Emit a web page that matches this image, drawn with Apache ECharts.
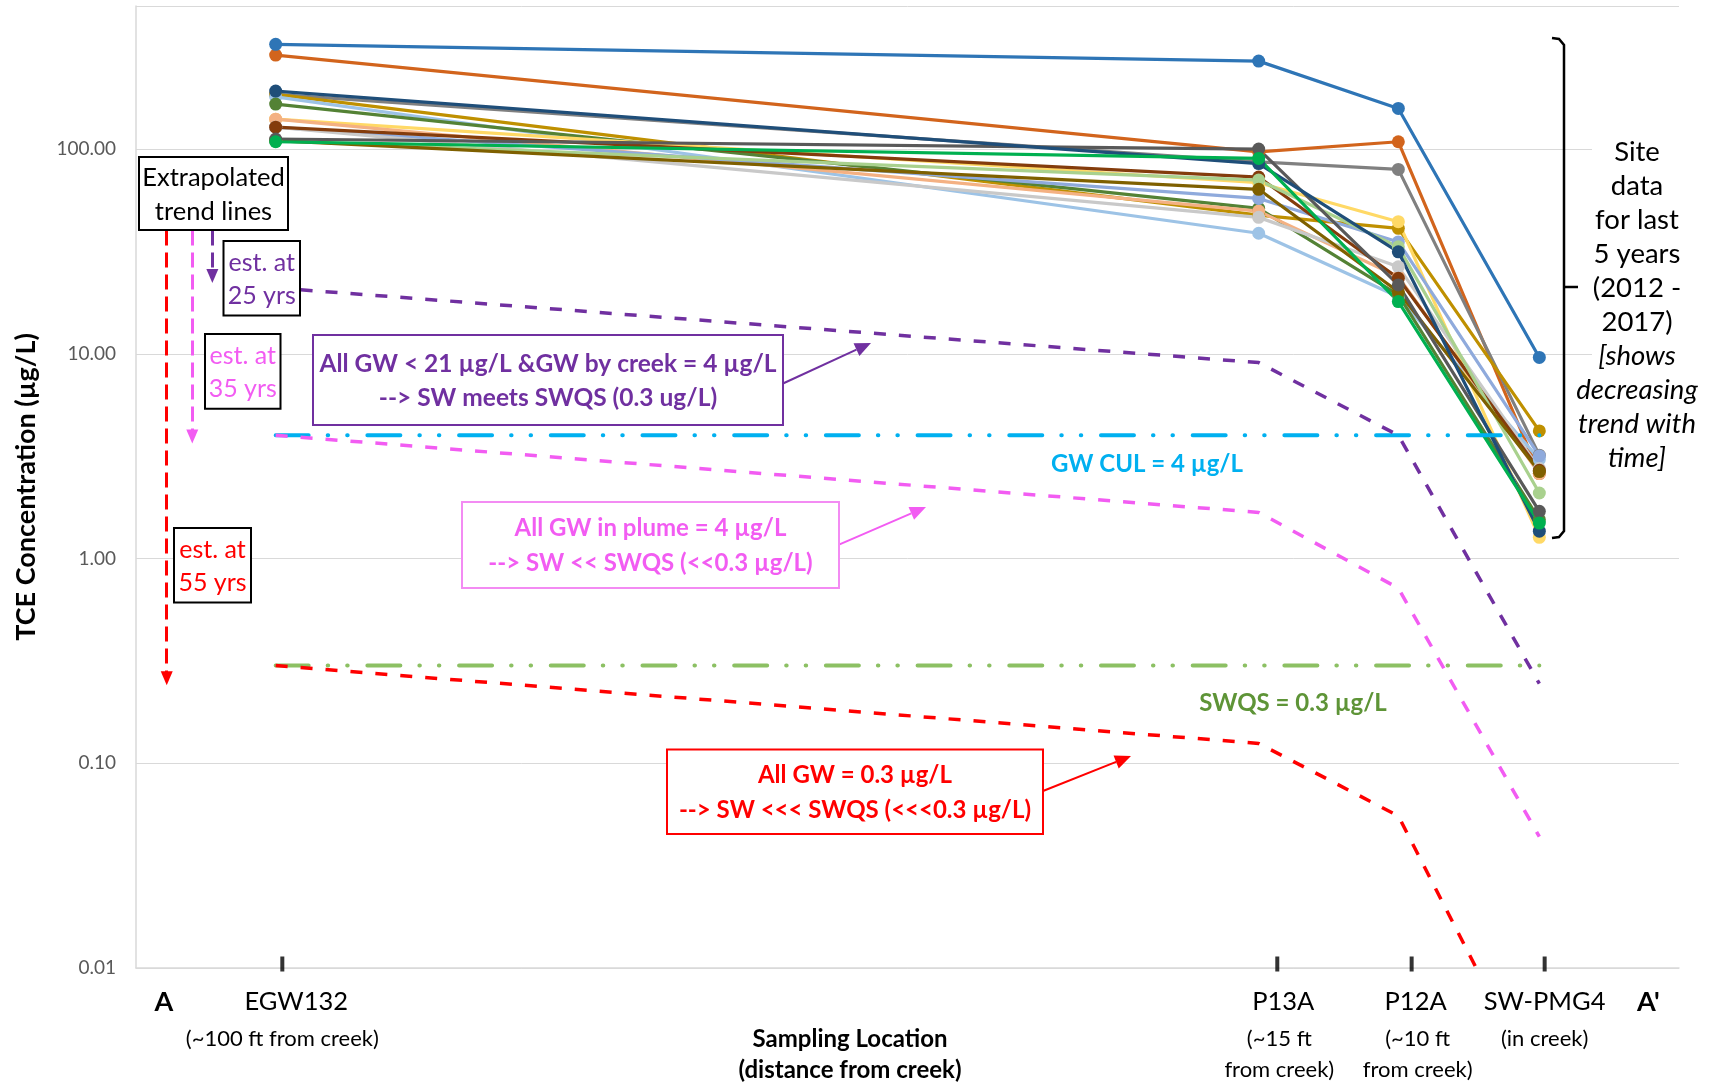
<!DOCTYPE html>
<html><head><meta charset="utf-8">
<script src="https://cdn.jsdelivr.net/npm/echarts@6/dist/echarts.min.js"></script>
<style>html,body{margin:0;padding:0;background:#fff}#c{width:1718px;height:1086px}</style>
</head><body><div id="c"></div>
<script>
const FONT = 'Lato, "Noto Sans", sans-serif';

// ---- data ----
const locations = ['EGW132', 'P13A', 'P12A', 'SW-PMG4'];
const locationSub = ['(~100 ft from creek)', '(~15 ft\nfrom creek)', '(~10 ft\nfrom creek)', '(in creek)'];
const markerX = [1.05, 8.44, 9.49, 10.55];   // position along section A-A'
const tickX = [1.10, 8.58, 9.59, 10.59];
const yTickValues = [0.01, 0.1, 1, 10, 100];

// TCE concentrations (ug/L) at EGW132, P13A, P12A, SW-PMG4 for each sampling event
const ev01 = [325, 269, 158, 9.6];
const ev02 = [288, 97, 108.6, 2.6];
const ev03 = [185, 86.7, 79.6, 3.2];
const ev04 = [185, 47.6, 41.0, 4.2];
const ev05 = [180, 38.8, 19.0, 3.05];
const ev06 = [166, 51.3, 19.4, 1.55];
const ev07 = [140, 68.5, 44.2, 1.27];
const ev08 = [140, 49.8, 23.8, 2.6];
const ev09 = [128, 57.4, 35.2, 3.17];
const ev10 = [128, 46.4, 26.6, 2.75];
const ev11 = [128, 73.0, 23.4, 2.7];
const ev12 = [110, 70.6, 33.3, 2.09];
const ev13 = [110, 63.6, 20.1, 2.66];
const ev14 = [112, 100, 21.7, 1.70];
const ev15 = [192, 85.0, 31.5, 1.36];
const ev16 = [108.6, 90.0, 18.0, 1.49];
const eventValues = [ev02, ev01, ev03, ev04, ev05, ev06, ev07, ev08, ev09, ev10, ev11, ev12, ev13, ev14, ev15, ev16];
const eventColors = ['#D2641C', '#2E75B6', '#808080', '#BF9000', '#9DC3E6', '#548235', '#FFD966', '#F4B183',
  '#8FAADC', '#C9C9C9', '#843C0C', '#A9D18E', '#7F6000', '#595959', '#1F4E79', '#00B050'];

// extrapolated trend lines
const est25 = [21, 9.06, 4.0, 0.245];
const est35 = [4, 1.68, 0.717, 0.0438];
const est55 = [0.3, 0.125, 0.0553, 0.0025];
const gwCul = 4;
const swqs = 0.3;
// arrows from "Extrapolated trend lines" box
const arrowX = [0.231, 0.423, 0.574];
const arrowFrom = 40;
const arrowTo = [0.26, 3.95, 24];

// ---- chart ----
const chart = echarts.init(document.getElementById('c'), null, {renderer: 'canvas'});

const pts = vals => vals.map((v, i) => [markerX[i], v]);

const series = [];
eventValues.forEach((vals, i) => {
  series.push({
    type: 'line', name: 'event' + (i + 1), data: pts(vals),
    symbol: 'circle', symbolSize: 13, showSymbol: true,
    itemStyle: {color: eventColors[i]},
    lineStyle: {color: eventColors[i], width: 3.2},
    emphasis: {disabled: true}, z: 2
  });
});

const dashDot = [33, 19, 0.5, 19, 0.5, 19.7];
series.push({
  type: 'line', name: 'GW CUL', data: [[markerX[0], gwCul], [markerX[3], gwCul]],
  symbol: 'none', lineStyle: {color: '#00B0F0', width: 4, type: dashDot, cap: 'round'}, z: 3
});
series.push({
  type: 'line', name: 'SWQS', data: [[markerX[0], swqs], [markerX[3], swqs]],
  symbol: 'none', lineStyle: {color: '#8CC063', width: 4, type: dashDot, cap: 'round'}, z: 3
});

const estDefs = [
  {name: 'est 25 yrs', vals: est25, color: '#7030A0', ai: 2},
  {name: 'est 35 yrs', vals: est35, color: '#F25CF2', ai: 1},
  {name: 'est 55 yrs', vals: est55, color: '#FF0000', ai: 0}
];
estDefs.forEach(d => {
  series.push({
    type: 'line', name: d.name, data: pts(d.vals), symbol: 'none', clip: true,
    lineStyle: {color: d.color, width: 3.5, type: [12, 13]}, z: 4,
    markLine: {
      silent: true, symbol: ['none', 'triangle'], symbolSize: [12, 14], animation: false,
      label: {show: false},
      lineStyle: {color: d.color, width: 3, type: [15, 7]},
      data: [[{coord: [arrowX[d.ai], arrowFrom]}, {coord: [arrowX[d.ai], arrowTo[d.ai]]}]]
    }
  });
});

// axis ticks at sampling locations
series.push({
  type: 'scatter', name: 'ticks', data: tickX.map(x => [x, yTickValues[0]]),
  symbol: 'rect', symbolSize: [4, 15], symbolOffset: [0, -4], clip: false,
  itemStyle: {color: '#000'}, z: 6, silent: true
});

const option = {
  animation: false,
  backgroundColor: '#fff',
  grid: {left: 136, right: 39, top: 6, bottom: 118, containLabel: false},
  xAxis: {
    type: 'value', min: 0, max: 11.6,
    axisLine: {show: true, lineStyle: {color: '#D9D9D9', width: 1.5}},
    axisTick: {show: false}, axisLabel: {show: false}, splitLine: {show: false}
  },
  yAxis: {
    type: 'log', logBase: 10, min: 0.01, max: 500,
    axisLine: {show: true, lineStyle: {color: '#D9D9D9', width: 1.5}},
    axisTick: {show: false},
    splitLine: {show: true, lineStyle: {color: '#D9D9D9', width: 1}},
    axisLabel: {color: '#595959', fontSize: 19, fontFamily: FONT, margin: 20,
      formatter: v => (yTickValues.some(t => Math.abs(t - v) / t < 1e-6) ? Number(v).toFixed(2) : '')},
    name: 'TCE Concentration (µg/L)', nameLocation: 'middle', nameGap: 96,
    nameTextStyle: {fontFamily: FONT, fontSize: 27, fontWeight: 'bold', color: '#000'}
  },
  series: series
};
chart.setOption(option);

// ---- annotations ----
const G = [];
function txt(x, y, text, opt) {
  opt = opt || {};
  G.push({type: 'text', z: 110, x: x, y: y, style: {
    text: text, x: 0, y: 0, align: 'center', verticalAlign: 'middle',
    fontFamily: FONT, fontSize: opt.size || 22, fontWeight: opt.bold ? 'bold' : 'normal',
    fontStyle: opt.italic ? 'italic' : 'normal', fill: opt.color || '#000',
    lineHeight: opt.lh || 34
  }});
}
function box(x, y, w, h, stroke, lines, color, bold, size, lh) {
  G.push({type: 'rect', z: 105, shape: {x: x, y: y, width: w, height: h},
    style: {fill: '#fff', stroke: stroke, lineWidth: 2}});
  txt(x + w / 2, y + h / 2 + 1, lines.join('\n'), {color: color, bold: bold, size: size, lh: lh});
}
function arrow(x1, y1, x2, y2, color) {
  const a = Math.atan2(y2 - y1, x2 - x1), L = 16, W = 7;
  const bx = x2 - L * Math.cos(a), by = y2 - L * Math.sin(a);
  G.push({type: 'line', z: 104, shape: {x1: x1, y1: y1, x2: bx, y2: by}, style: {stroke: color, lineWidth: 2}});
  G.push({type: 'polygon', z: 104, shape: {points: [[x2, y2],
    [bx + W * Math.sin(a), by - W * Math.cos(a)], [bx - W * Math.sin(a), by + W * Math.cos(a)]]},
    style: {fill: color}});
}

box(139, 157, 149, 73, '#000', ['Extrapolated', 'trend lines'], '#000', false, 25.5, 34);
box(223.5, 241, 76.5, 74.5, '#000', ['est. at', '25 yrs'], '#7030A0', false, 25, 33);
box(205, 334, 75.5, 74.7, '#000', ['est. at', '35 yrs'], '#F25CF2', false, 25, 33);
box(174, 528, 77, 74.6, '#000', ['est. at', '55 yrs'], '#FF0000', false, 25, 33);

box(313, 335, 470, 90, '#7030A0', ['All GW < 21 µg/L &GW by creek = 4 µg/L', '--> SW meets SWQS (0.3 ug/L)'], '#7030A0', true, 24.5, 34);
arrow(783, 383.5, 871, 343, '#7030A0');
box(462, 502, 377, 86, '#F38BF3', ['All GW in plume = 4 µg/L', '--> SW << SWQS (<<0.3 µg/L)'], '#F25CF2', true, 24, 35);
arrow(839, 544.6, 926, 507, '#F25CF2');
box(667, 749.5, 376, 84.5, '#FF0000', ['All GW = 0.3 µg/L', '--> SW <<< SWQS (<<<0.3 µg/L)'], '#FF0000', true, 24, 35);
arrow(1043, 791, 1131, 756, '#FF0000');

txt(1147, 464, 'GW CUL = 4 µg/L', {color: '#00B0F0', bold: true, size: 24});
txt(1293, 703, 'SWQS = 0.3 µg/L', {color: '#5E9437', bold: true, size: 24});

// right bracket and text
G.push({type: 'rect', z: 101, shape: {x: 1592, y: 100, width: 100, height: 380}, style: {fill: '#fff'}});
G.push({type: 'polyline', z: 102, shape: {points: [[1552, 38], [1559, 39], [1564, 45], [1564, 531], [1559, 537], [1552, 538]]},
  style: {stroke: '#000', lineWidth: 2.5, fill: null}});
G.push({type: 'line', z: 102, shape: {x1: 1564, y1: 287, x2: 1578, y2: 287}, style: {stroke: '#000', lineWidth: 2.5}});
const rightNormal = ['Site', 'data', 'for last', '5 years', '(2012 -', '2017)'];
const rightItalic = ['[shows', 'decreasing', 'trend with', 'time]'];
rightNormal.concat(rightItalic).forEach((t, i) => {
  txt(1637, 152 + i * 34, t, {size: 27.5, italic: i >= rightNormal.length});
});

// location labels under axis ticks
const labelDx = [14, 6, 4, 0];
const subDx = [0, 2, 6, 0];
tickX.forEach((x, i) => {
  const p = chart.convertToPixel({gridIndex: 0}, [x, yTickValues[0]]);
  txt(p[0] + labelDx[i], p[1] + 34, locations[i], {size: 25.5});
  const n = locationSub[i].split('\n').length;
  txt(p[0] + subDx[i], p[1] + 71 + (n - 1) * 15.5, locationSub[i], {size: 22, lh: 31});
});
// A / A'
const pA = chart.convertToPixel({gridIndex: 0}, [0.21, yTickValues[0]]);
const pA2 = chart.convertToPixel({gridIndex: 0}, [11.37, yTickValues[0]]);
txt(pA[0], pA[1] + 34, 'A', {size: 27, bold: true});
txt(pA2[0], pA2[1] + 34, "A'", {size: 27, bold: true});
txt(850, 1055, 'Sampling Location\n(distance from creek)', {size: 24, bold: true, lh: 31});

chart.setOption({graphic: {elements: G}});
</script></body></html>
